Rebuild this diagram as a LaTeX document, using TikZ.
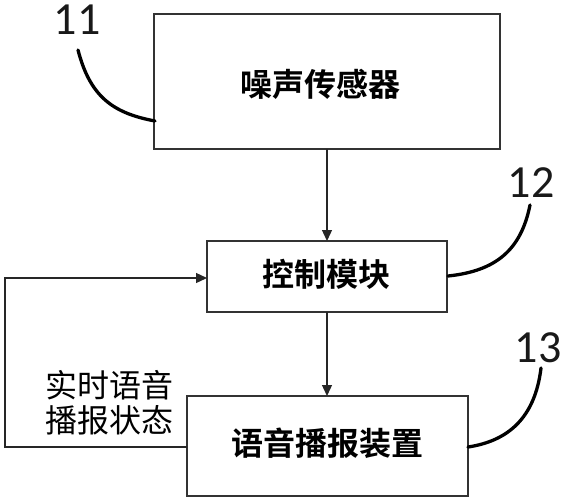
\documentclass[tikz,border=0pt]{standalone}
\usepackage{fontspec}
\newfontfamily\cjk{Noto Sans CJK SC}
\newfontfamily\cjkb{Noto Sans CJK SC Bold}
\newfontfamily\digits{Carlito}
\usetikzlibrary{arrows.meta}
\begin{document}
\begin{tikzpicture}[x=1pt,y=-1pt,
  blk/.style={draw=black!80, line width=1.5pt},
  boxtext/.style={font=\cjkb\fontsize{32}{36}\selectfont, inner sep=0pt},
  conn/.style={draw=black!85, line width=1.3pt, -{Triangle[length=11pt,width=10pt]}},
  leader/.style={draw=black, line width=3.3pt, line cap=round},
  num/.style={font=\digits\fontsize{46}{50}\selectfont, inner sep=0pt, text=black!90, anchor=base}]
\useasboundingbox (0,0) rectangle (564,500);
% boxes
\draw[blk] (154,14) rectangle (500,149);
\draw[blk] (207,241) rectangle (447,312);
\draw[blk] (187,396) rectangle (468,496);
\coordinate (b1s) at (327,149);
\coordinate (b2n) at (327,241);
\coordinate (b2s) at (327,312);
\coordinate (b3n) at (327,396);
\coordinate (b2w) at (207,278);
\coordinate (b3w) at (187,447);
\coordinate (c1) at (5,447);
\coordinate (c2) at (5,278);
\node[boxtext] (t1) at (320,84) {噪声传感器};
\node[boxtext] (t2) at (326,274) {控制模块};
\node[boxtext] (t3) at (327,443) {语音播报装置};
% connectors
\draw[conn] (b1s) -- (b2n);
\draw[conn] (b2s) -- (b3n);
\draw[conn] (b3w) -- (c1) -- (c2) -- (b2w);
\node[font=\cjk\fontsize{32}{35}\selectfont, align=center, inner sep=0pt] (lab) at (109,403) {实时语音\\播报状态};
% numbers
\node[num] (n11) at (77,35) {11};
\node[num] (n12) at (531,197) {12};
\node[num] (n13) at (538,362) {13};
\coordinate (l11a) at (78,50);
\coordinate (l11b) at (155,121);
\coordinate (l12a) at (530,205);
\coordinate (l12b) at (448,276);
\coordinate (l13a) at (541,368);
\coordinate (l13b) at (468,447);
\draw[leader] (l11a) .. controls (90,96) and (112,113) .. (l11b);
\draw[leader] (l12a) .. controls (521,250) and (496,271) .. (l12b);
\draw[leader] (l13a) .. controls (535,418) and (508,441) .. (l13b);
\end{tikzpicture}
\end{document}
